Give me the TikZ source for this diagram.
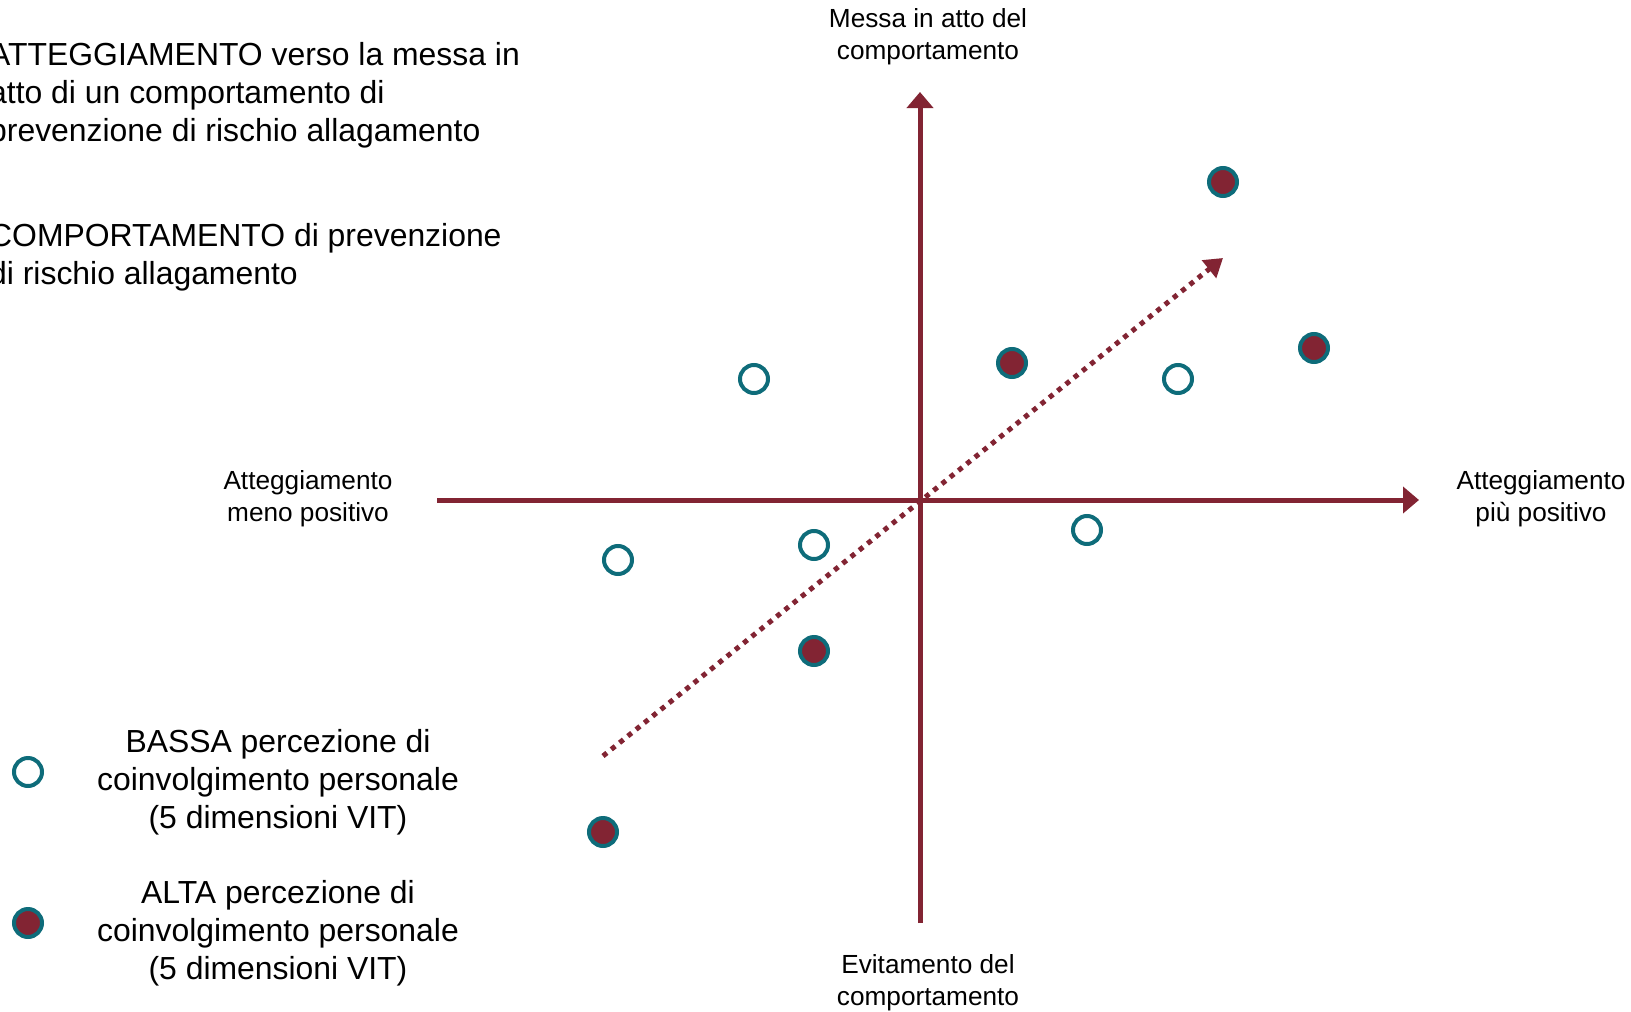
\documentclass[tikz,border=0pt]{standalone}
\usepackage{fontspec}
\setmainfont{Liberation Sans}
\usetikzlibrary{arrows.meta}
\definecolor{bordeaux}{RGB}{130,36,51}
\definecolor{petrolio}{RGB}{14,108,122}
\tikzset{
  asse/.style={bordeaux, line width=5pt, -{Triangle[length=16pt,width=26pt]}},
  bassa/.style={circle, draw=petrolio, line width=4pt, fill=white, minimum size=28pt, inner sep=0pt},
  alta/.style={bassa, fill=bordeaux},
  big/.style={inner sep=0pt, font=\fontsize{31.9}{38}\selectfont},
  small/.style={inner sep=0pt, align=center, font=\fontsize{26.2}{32}\selectfont}
}
\begin{document}
\begin{tikzpicture}[x=1pt,y=-1pt]
\useasboundingbox (0,0) rectangle (1631,1012);
% axes
\coordinate (xa) at (437,500);
\coordinate (xb) at (1419,500);
\coordinate (ya) at (920,923);
\coordinate (yb) at (920,92);
\draw [asse] (xa) -- (xb);
\draw [asse] (ya) -- (yb);
\node [small] (meno) at (308,499) {Atteggiamento\\meno positivo};
\node [small] (piu) at (1541,499) {Atteggiamento\\più positivo};
\node [small] (messa) at (928,37) {Messa in atto del\\comportamento};
\node [small] (evit) at (928,983) {Evitamento del\\comportamento};
% trend
\coordinate (ta) at (603,756);
\coordinate (tb) at (1223,258);
\draw [bordeaux, line width=5pt, dash pattern=on 5pt off 5.6pt, -{Triangle[length=18pt,width=22pt]}] (ta) -- (tb);
% points
\node [bassa] (b1) at (754,379) {};
\node [bassa] (b2) at (618,560) {};
\node [bassa] (b3) at (814,545) {};
\node [bassa] (b4) at (1087,530) {};
\node [bassa] (b5) at (1178,379) {};
\node [alta] (a1) at (1223,182) {};
\node [alta] (a2) at (1012,363) {};
\node [alta] (a3) at (1314,348) {};
\node [alta] (a4) at (814,651) {};
\node [alta] (a5) at (603,832) {};
% text
\node [big, anchor=west, align=left] (att) at (-11,95) {ATTEGGIAMENTO verso la messa in\\atto di un comportamento di\\prevenzione di rischio allagamento};
\node [big, anchor=west, align=left] (comp) at (-11,257) {COMPORTAMENTO di prevenzione\\di rischio allagamento};
% legend
\node [bassa] (lb) at (28,772) {};
\node [alta] (la) at (28,923) {};
\node [big, align=center] (tb1) at (278,782) {BASSA percezione di\\coinvolgimento personale\\(5 dimensioni VIT)};
\node [big, align=center] (ta1) at (278,933) {ALTA percezione di\\coinvolgimento personale\\(5 dimensioni VIT)};
\end{tikzpicture}
\end{document}
